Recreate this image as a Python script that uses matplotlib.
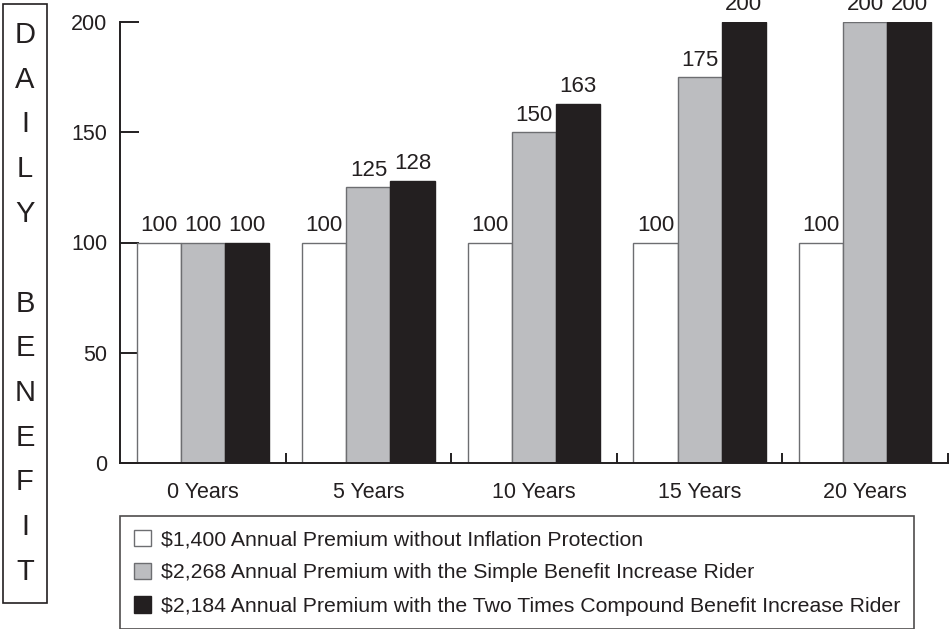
import matplotlib
matplotlib.use("Agg")
import matplotlib.pyplot as plt
import numpy as np
from matplotlib.patches import Rectangle

categories = ["0 Years", "5 Years", "10 Years", "15 Years", "20 Years"]
series_names = [
    "$1,400 Annual Premium without Inflation Protection",
    "$2,268 Annual Premium with the Simple Benefit Increase Rider",
    "$2,184 Annual Premium with the Two Times Compound Benefit Increase Rider",
]
no_protection = [100, 100, 100, 100, 100]
simple_rider = [100, 125, 150, 175, 200]
compound_rider = [100, 128, 163, 200, 200]
y_ticks = [0, 50, 100, 150, 200]
ylabel_letters = list("DAILY") + [""] + list("BENEFIT")

plt.rcParams["font.family"] = ["Liberation Sans", "DejaVu Sans"]

TXT = "#231f20"
fills = ["#ffffff", "#bcbdc0", "#231f20"]
edges = ["#6d6e71", "#6d6e71", "#231f20"]
FS_TICK = 15.5
FS_DATA = 16
FS_LEG = 15.3

fig = plt.figure(figsize=(9.51, 6.29), dpi=100)
ax = fig.add_axes([120/951, 1-463/629, (948-120)/951, (463-22)/629])

x = np.arange(len(categories))
w = 0.8/3
containers = []
for i, vals in enumerate([no_protection, simple_rider, compound_rider]):
    c = ax.bar(x + (i-1)*w, vals, w, color=fills[i], edgecolor=edges[i],
               linewidth=1.0, label=series_names[i], zorder=2)
    containers.append(c)
    for xi, v in zip(x + (i-1)*w, vals):
        ax.text(xi, v + 3, str(v), ha="center", va="bottom", fontsize=FS_DATA,
                color=TXT, clip_on=False)

ax.set_xlim(-0.5, 4.5)
ax.set_ylim(0, 200)
for s in ["top", "right"]:
    ax.spines[s].set_visible(False)
for s in ["left", "bottom"]:
    ax.spines[s].set_color(TXT)
    ax.spines[s].set_linewidth(1.4)
    ax.spines[s].set_zorder(3)

ax.set_yticks(y_ticks)
ax.set_yticklabels([str(t) for t in y_ticks])
ax.tick_params(axis="y", direction="in", length=14, width=1.4, color=TXT,
               labelsize=FS_TICK, labelcolor=TXT, pad=9)
ax.set_xticks(x + 0.5)
ax.set_xticklabels([])
ax.set_xticks(x, minor=True)
ax.set_xticklabels(categories, minor=True)
ax.tick_params(axis="x", which="major", direction="in", length=7.5, width=1.4, color=TXT)
ax.tick_params(axis="x", which="minor", length=0, labelsize=FS_TICK, labelcolor=TXT, pad=14)

leg = fig.legend(handles=containers, labels=series_names, loc="upper left",
                 bbox_to_anchor=(120/951, 1-516/629), fontsize=FS_LEG,
                 frameon=True, fancybox=False, edgecolor=TXT, borderaxespad=0,
                 handlelength=0.82, handleheight=0.82, handletextpad=0.45,
                 labelspacing=0.64, borderpad=0.64)
leg.get_frame().set_linewidth(1.2)
for t in leg.get_texts():
    t.set_color(TXT)

# boxed vertical y label
fig.patches.append(Rectangle((3/951, 1-603/629), 44/951, 599/629, transform=fig.transFigure,
                             fill=False, edgecolor=TXT, linewidth=1.2))
for k, letter in enumerate(ylabel_letters):
    ycen = 35 + k*44.75
    fig.text(25/951, 1-ycen/629, letter, ha="center", va="center",
             fontsize=21, color=TXT)

fig.savefig("out.png", dpi=100)
